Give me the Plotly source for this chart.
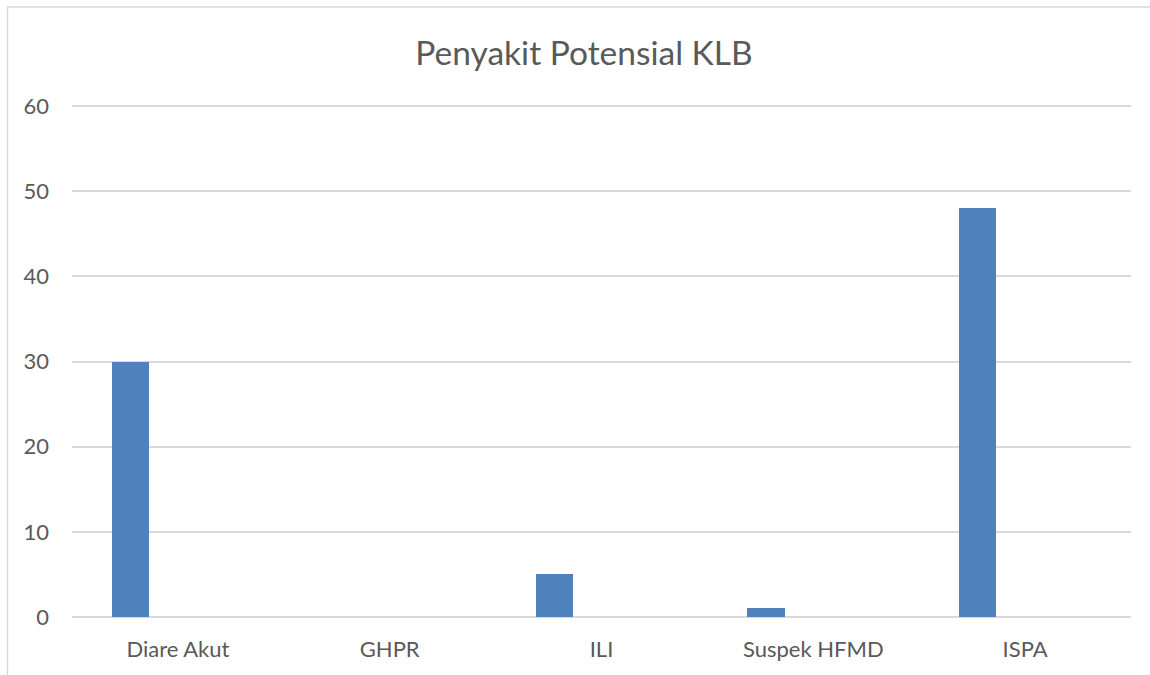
import plotly.graph_objects as go

categories = ["Diare Akut", "GHPR", "ILI", "Suspek HFMD", "ISPA"]
values = [30, 0, 5, 1, 48]
y_ticks = [0, 10, 20, 30, 40, 50, 60]

W, H = 1150, 675
L, R, T, B = 72, 19, 105, 58
pw, ph = W - L - R, H - T - B

fig = go.Figure()
fig.add_trace(go.Bar(
    x=categories, y=values,
    width=0.175, offset=-0.311,
    marker=dict(color="#4f81bd", line=dict(color="#4f81bd", width=0)),
    showlegend=False,
))

font = "Lato, 'Open Sans', 'Noto Sans', sans-serif"
fig.update_layout(
    width=W, height=H,
    margin=dict(l=L, r=R, t=T, b=B),
    paper_bgcolor="white", plot_bgcolor="white",
    title=dict(text="Penyakit Potensial KLB", x=584 / W, xanchor="center",
               y=1 - 53 / H, yanchor="middle",
               font=dict(family=font, size=33.5, color="#595959")),
    font=dict(family=font, size=22, color="#595959"),
    bargap=0,
    xaxis=dict(type="category", showgrid=False, showline=False, zeroline=False,
               ticks="", tickfont=dict(size=22, color="#595959"), ticklabelstandoff=17),
    yaxis=dict(range=[0, 60.12], tickvals=y_ticks, showgrid=True, gridcolor="#d9d9d9",
               gridwidth=1.5, zeroline=True, zerolinecolor="#d9d9d9", zerolinewidth=1.5,
               showline=False, ticks="", tickfont=dict(size=22, color="#595959"),
               ticklabelstandoff=22),
    shapes=[dict(type="rect", xref="paper", yref="paper",
                 x0=(7.5 - L) / pw, x1=(W + 20 - L) / pw,
                 y0=-(H + 20 - (H - B)) / ph, y1=(H - B - 7) / ph,
                 line=dict(color="#d9d9d9", width=1.5), fillcolor="rgba(0,0,0,0)",
                 layer="below")],
)

fig.write_html("out.html", config={"displayModeBar": False},
               post_script="document.body.style.margin='0';document.body.style.overflow='hidden';")
